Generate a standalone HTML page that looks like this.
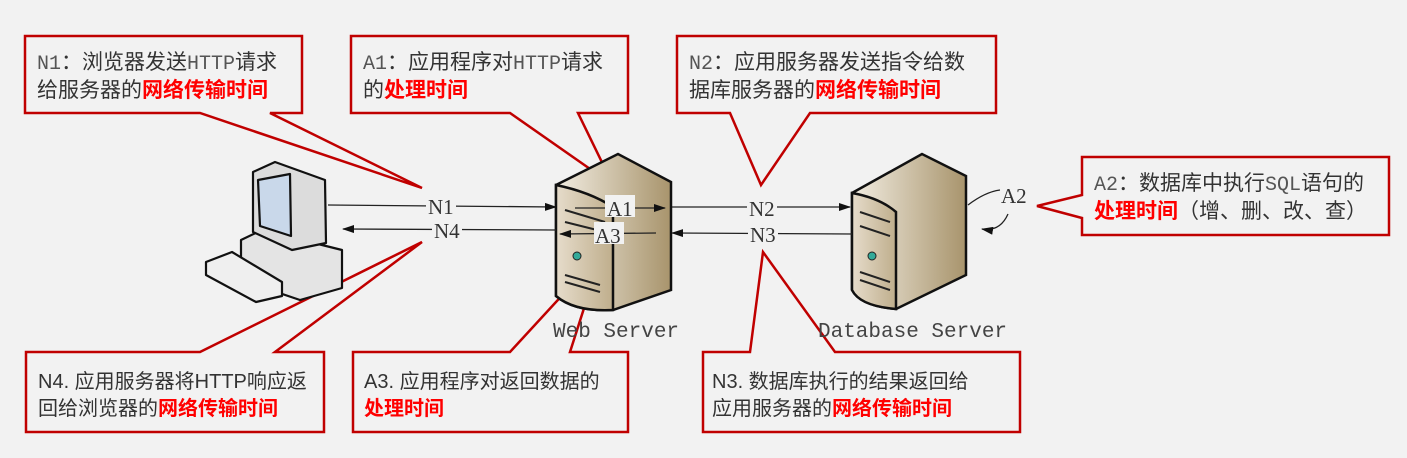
<!DOCTYPE html>
<html><head><meta charset="utf-8"><style>
body{margin:0;background:#f2f2f2;}
svg{display:block}
.t{font-family:"Liberation Sans","Noto Sans CJK SC",sans-serif;font-size:21px;fill:#333}
.b{font-size:20px}
.m{font-family:"Liberation Mono",monospace;font-size:20px;fill:#555}
.r{fill:#f00;font-weight:bold}
.lb{font-family:"Liberation Mono","DejaVu Serif",serif;font-size:21px;fill:#444}
.nl{font-family:"Liberation Serif",serif;font-size:21px;fill:#333}
</style></head><body>
<svg width="1407" height="458" viewBox="0 0 1407 458">
<defs>
<linearGradient id="sf" x1="0" x2="1" y1="0" y2="0"><stop offset="0" stop-color="#e6dccb"/><stop offset="1" stop-color="#bfae8c"/></linearGradient>
<linearGradient id="ss" x1="0" x2="1"><stop offset="0" stop-color="#f2ede2"/><stop offset="1" stop-color="#a8946c"/></linearGradient>
<marker id="ah" markerWidth="12" markerHeight="8" refX="11" refY="4" orient="auto" markerUnits="userSpaceOnUse"><path d="M0,0 L12,4 L0,8 z" fill="#111"/></marker>
</defs>
<!-- callouts -->
<g fill="#f2f2f2" stroke="#c00000" stroke-width="2.5" stroke-linejoin="miter">
<polygon points="25,36 302,36 302,113 270,113 422,188 200,113 25,113"/>
<polygon points="351,36 628,36 628,113 578,113 613,185 510,113 351,113"/>
<polygon points="677,36 996,36 996,113 810,113 761,185 730,113 677,113"/>
<polygon points="1082,157 1389,157 1389,235 1082,235 1082,218 1037,206 1082,195"/>
<polygon points="26,352 200,352 422,242 275,352 324,352 324,432 26,432"/>
<polygon points="353,352 510,352 602,252 570,352 628,352 628,432 353,432"/>
<polygon points="703,352 750,352 763,252 835,352 1020,352 1020,432 703,432"/>
</g>
<!-- texts -->
<text x="37" y="69" class="t"><tspan class="m">N1</tspan>：浏览器发送<tspan class="m">HTTP</tspan>请求</text>
<text x="37" y="97" class="t">给服务器的<tspan class="r">网络传输时间</tspan></text>
<text x="363" y="69" class="t"><tspan class="m">A1</tspan>：应用程序对<tspan class="m">HTTP</tspan>请求</text>
<text x="363" y="97" class="t">的<tspan class="r">处理时间</tspan></text>
<text x="689" y="69" class="t"><tspan class="m">N2</tspan>：应用服务器发送指令给数</text>
<text x="689" y="97" class="t">据库服务器的<tspan class="r">网络传输时间</tspan></text>
<text x="1094" y="190" class="t"><tspan class="m">A2</tspan>：数据库中执行<tspan class="m">SQL</tspan>语句的</text>
<text x="1094" y="218" class="t"><tspan class="r">处理时间</tspan>（增、删、改、查）</text>
<text x="38" y="388" class="t b">N4. 应用服务器将HTTP响应返</text>
<text x="38" y="415" class="t b">回给浏览器的<tspan class="r">网络传输时间</tspan></text>
<text x="364" y="388" class="t b">A3. 应用程序对返回数据的</text>
<text x="364" y="415" class="t b"><tspan class="r">处理时间</tspan></text>
<text x="712" y="388" class="t b">N3. 数据库执行的结果返回给</text>
<text x="712" y="415" class="t b">应用服务器的<tspan class="r">网络传输时间</tspan></text>

<!-- computer -->
<g stroke="#111" stroke-width="2.2" stroke-linejoin="round">
<path d="M241,240 L262,230 L342,250 L342,288 L300,300 L241,280 z" fill="#e4e4e4"/>
<path d="M253,172 L275,162 L325,180 L326,243 L292,250 L253,232 z" fill="#dcdcdc"/>
<path d="M258,180 L290,174 L291,236 L260,226 z" fill="#c9d8ea"/>
<path d="M206,262 L232,252 L282,282 L282,296 L256,302 L206,275 z" fill="#efefef"/>
</g>
<!-- web server -->
<g stroke="#111" stroke-width="2.5">
<path d="M556,185 L618,154 L671,182 L671,290 L613,310 Q575,312 556,296 z" fill="url(#ss)"/>
<path d="M556,185 Q590,192 613,207 L613,310 Q575,312 556,296 z" fill="url(#sf)"/>
</g>
<circle cx="577" cy="256" r="4" fill="#3a9" stroke="#222"/>
<g stroke="#222" stroke-width="2"><line x1="565" y1="210" x2="605" y2="222"/><line x1="565" y1="222" x2="605" y2="232"/><line x1="565" y1="275" x2="600" y2="285"/><line x1="565" y1="282" x2="600" y2="292"/></g>
<!-- db server -->
<g stroke="#111" stroke-width="2.5">
<path d="M852,193 L922,154 L966,176 L966,275 L896,309 Q860,306 852,290 z" fill="url(#ss)"/>
<path d="M852,193 Q880,198 896,212 L896,309 Q860,306 852,290 z" fill="url(#sf)"/>
</g>
<circle cx="872" cy="256" r="4" fill="#3a9" stroke="#222"/>
<g stroke="#222" stroke-width="2"><line x1="860" y1="212" x2="890" y2="222"/><line x1="860" y1="226" x2="890" y2="236"/><line x1="860" y1="272" x2="890" y2="282"/><line x1="860" y1="280" x2="890" y2="290"/></g>

<!-- arrows -->
<g stroke="#222" stroke-width="1.3" fill="none">
<line x1="328" y1="205" x2="556" y2="207" marker-end="url(#ah)"/>
<line x1="556" y1="230" x2="343" y2="229" marker-end="url(#ah)"/>
<line x1="575" y1="208" x2="665" y2="208" marker-end="url(#ah)"/>
<line x1="656" y1="233" x2="560" y2="234" marker-end="url(#ah)"/>
<line x1="672" y1="207" x2="850" y2="207" marker-end="url(#ah)"/>
<line x1="852" y1="234" x2="672" y2="233" marker-end="url(#ah)"/>
<path d="M968,205 Q985,192 1000,190"/>
<path d="M1008,214 Q1000,232 982,229" marker-end="url(#ah)"/>
</g>
<g class="nl">
<rect x="426" y="193" width="30" height="22" fill="#f2f2f2"/><text x="428" y="214">N1</text>
<rect x="432" y="218" width="30" height="22" fill="#f2f2f2"/><text x="434" y="238">N4</text>
<rect x="605" y="195" width="30" height="22" fill="#f2f2f2"/><text x="607" y="216">A1</text>
<rect x="594" y="222" width="30" height="22" fill="#f2f2f2"/><text x="595" y="243">A3</text>
<rect x="747" y="195" width="30" height="22" fill="#f2f2f2"/><text x="749" y="216">N2</text>
<rect x="748" y="222" width="30" height="22" fill="#f2f2f2"/><text x="750" y="242">N3</text>
<text x="1001" y="203">A2</text>
</g>
<text x="553" y="337" class="lb">Web Server</text>
<text x="818" y="337" class="lb">Database Server</text>
</svg>
</body></html>
